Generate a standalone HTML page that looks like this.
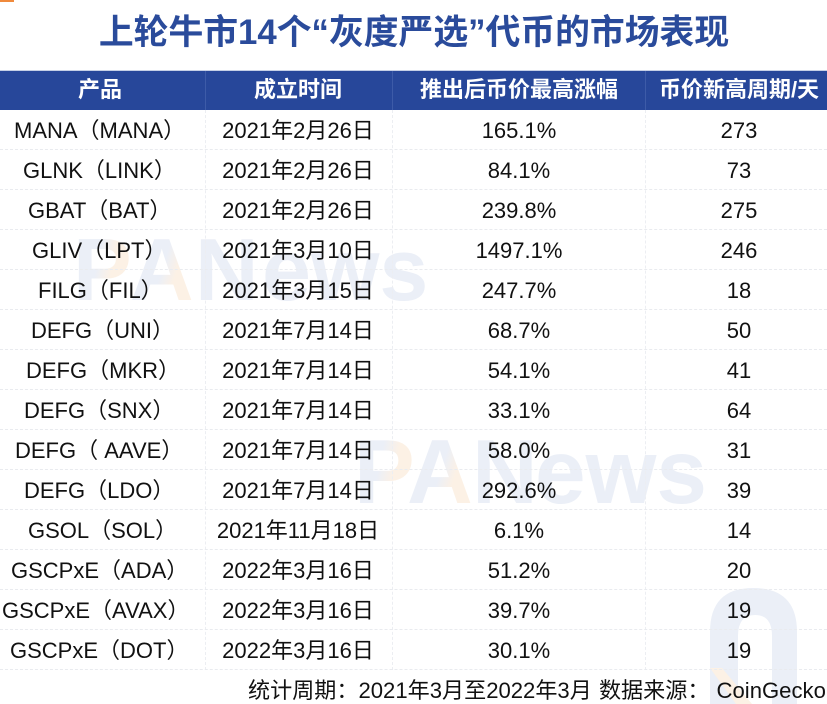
<!DOCTYPE html>
<html lang="zh-CN">
<head>
<meta charset="utf-8">
<title>上轮牛市14个“灰度严选”代币的市场表现</title>
<style>
html,body{margin:0;padding:0;background:#fff;}
#page{position:relative;width:827px;height:704px;overflow:hidden;background:#fff;font-family:"Liberation Sans","Noto Sans CJK SC",sans-serif;color:#111;}
#page>svg{position:absolute;left:0;top:0;}
.t{position:absolute;white-space:nowrap;line-height:40px;height:40px;font-size:22px;}
.c{transform:translateX(-50%);}
.h{position:absolute;top:70px;height:40px;line-height:40px;font-size:22px;font-weight:700;color:#fff;white-space:nowrap;transform:translateX(-50%);}
.title{position:absolute;left:414px;top:10px;transform:translateX(-50%);font-size:34.8px;line-height:46px;font-weight:700;color:#2a4b9b;white-space:nowrap;}
.header-bar{position:absolute;left:0;top:70px;width:827px;height:40px;background:#27479a;border-top:1px solid #c6d0e6;box-sizing:border-box;}
.vd{position:absolute;top:71px;height:39px;width:1px;background:#3d5ba8;}
.hl{position:absolute;left:0;width:827px;height:0;border-top:1px dashed #e9ebef;}
.vl{position:absolute;top:110px;height:560px;width:0;border-left:1px dashed #eceef2;}
.foot{position:absolute;left:248px;top:671px;font-size:22.1px;word-spacing:1px;line-height:40px;height:33px;white-space:nowrap;color:#111;}
.corner{position:absolute;left:0;top:0;width:14px;height:2px;background:#f08a3c;}
</style>
</head>
<body>
<div id="page">
<svg width="827" height="704">
<defs>
<linearGradient id="gp" x1="0" y1="0" x2="1" y2="0.35"><stop offset="0.5" stop-color="#ebeff7"/><stop offset="0.75" stop-color="#fcf1e5"/></linearGradient>
<linearGradient id="ga" x1="0" y1="0" x2="1" y2="0.5"><stop offset="0.6" stop-color="#ebeff7"/><stop offset="0.8" stop-color="#fcf1e5"/></linearGradient>
</defs>
<g font-family="Liberation Sans" font-weight="700" font-size="88">
<text x="73" y="300" fill="url(#gp)">P</text>
<text x="130" y="300" fill="url(#ga)">A</text>
<text x="195" y="300" fill="#ebeff7">N</text>
<text x="262" y="300" fill="#ebeff7">ews</text>
</g>
<g font-family="Liberation Sans" font-weight="700" font-size="91">
<text x="354" y="503" fill="url(#gp)">P</text>
<text x="407" y="503" fill="url(#ga)">A</text>
<text x="472" y="503" fill="#ebeff7">N</text>
<text x="535" y="503" fill="#ebeff7">ews</text>
</g>
<g>
<path d="M710 704 L710 632 Q710 588 753 588 Q797 588 797 632 L797 704 L772 704 L772 636 Q772 615 755 615 Q738 615 738 636 L738 704 Z" fill="#ebeff7"/>
<path d="M710 668 L722 668 L752 704 L736 704 Z" fill="#fcf1e5"/>
</g>
</svg>

<div class="corner"></div>
<div class="title">上轮牛市14个“灰度严选”代币的市场表现</div>

<div class="header-bar"></div>
<div class="vd" style="left:205px"></div>
<div class="vd" style="left:392px"></div>
<div class="vd" style="left:645px"></div>
<div class="h" style="left:100px">产品</div>
<div class="h" style="left:298px">成立时间</div>
<div class="h" style="left:519px">推出后币价最高涨幅</div>
<div class="h" style="left:739px">币价新高周期/天</div>

<div class="vl" style="left:205px"></div>
<div class="vl" style="left:392px"></div>
<div class="vl" style="left:645px"></div>

<div class="hl" style="top:149px"></div>
<div class="hl" style="top:189px"></div>
<div class="hl" style="top:229px"></div>
<div class="hl" style="top:269px"></div>
<div class="hl" style="top:309px"></div>
<div class="hl" style="top:349px"></div>
<div class="hl" style="top:389px"></div>
<div class="hl" style="top:429px"></div>
<div class="hl" style="top:469px"></div>
<div class="hl" style="top:509px"></div>
<div class="hl" style="top:549px"></div>
<div class="hl" style="top:589px"></div>
<div class="hl" style="top:629px"></div>
<div class="hl" style="top:669px"></div>

<div class="t" style="left:14px;top:111px">MANA（MANA）</div>
<div class="t c" style="left:298px;top:111px">2021年2月26日</div>
<div class="t c" style="left:519px;top:111px">165.1%</div>
<div class="t c" style="left:739px;top:111px">273</div>

<div class="t" style="left:23px;top:151px">GLNK（LINK）</div>
<div class="t c" style="left:298px;top:151px">2021年2月26日</div>
<div class="t c" style="left:519px;top:151px">84.1%</div>
<div class="t c" style="left:739px;top:151px">73</div>

<div class="t" style="left:28px;top:191px">GBAT（BAT）</div>
<div class="t c" style="left:298px;top:191px">2021年2月26日</div>
<div class="t c" style="left:519px;top:191px">239.8%</div>
<div class="t c" style="left:739px;top:191px">275</div>

<div class="t" style="left:32px;top:231px">GLIV（LPT）</div>
<div class="t c" style="left:298px;top:231px">2021年3月10日</div>
<div class="t c" style="left:519px;top:231px">1497.1%</div>
<div class="t c" style="left:739px;top:231px">246</div>

<div class="t" style="left:38px;top:271px">FILG（FIL）</div>
<div class="t c" style="left:298px;top:271px">2021年3月15日</div>
<div class="t c" style="left:519px;top:271px">247.7%</div>
<div class="t c" style="left:739px;top:271px">18</div>

<div class="t" style="left:31px;top:311px">DEFG（UNI）</div>
<div class="t c" style="left:298px;top:311px">2021年7月14日</div>
<div class="t c" style="left:519px;top:311px">68.7%</div>
<div class="t c" style="left:739px;top:311px">50</div>

<div class="t" style="left:26px;top:351px">DEFG（MKR）</div>
<div class="t c" style="left:298px;top:351px">2021年7月14日</div>
<div class="t c" style="left:519px;top:351px">54.1%</div>
<div class="t c" style="left:739px;top:351px">41</div>

<div class="t" style="left:24px;top:391px">DEFG（SNX）</div>
<div class="t c" style="left:298px;top:391px">2021年7月14日</div>
<div class="t c" style="left:519px;top:391px">33.1%</div>
<div class="t c" style="left:739px;top:391px">64</div>

<div class="t" style="left:15px;top:431px">DEFG（ AAVE）</div>
<div class="t c" style="left:298px;top:431px">2021年7月14日</div>
<div class="t c" style="left:519px;top:431px">58.0%</div>
<div class="t c" style="left:739px;top:431px">31</div>

<div class="t" style="left:24px;top:471px">DEFG（LDO）</div>
<div class="t c" style="left:298px;top:471px">2021年7月14日</div>
<div class="t c" style="left:519px;top:471px">292.6%</div>
<div class="t c" style="left:739px;top:471px">39</div>

<div class="t" style="left:28px;top:511px">GSOL（SOL）</div>
<div class="t c" style="left:298px;top:511px">2021年11月18日</div>
<div class="t c" style="left:519px;top:511px">6.1%</div>
<div class="t c" style="left:739px;top:511px">14</div>

<div class="t" style="left:11px;top:551px">GSCPxE（ADA）</div>
<div class="t c" style="left:298px;top:551px">2022年3月16日</div>
<div class="t c" style="left:519px;top:551px">51.2%</div>
<div class="t c" style="left:739px;top:551px">20</div>

<div class="t" style="left:2px;top:591px">GSCPxE（AVAX）</div>
<div class="t c" style="left:298px;top:591px">2022年3月16日</div>
<div class="t c" style="left:519px;top:591px">39.7%</div>
<div class="t c" style="left:739px;top:591px">19</div>

<div class="t" style="left:10px;top:631px">GSCPxE（DOT）</div>
<div class="t c" style="left:298px;top:631px">2022年3月16日</div>
<div class="t c" style="left:519px;top:631px">30.1%</div>
<div class="t c" style="left:739px;top:631px">19</div>

<div class="foot">统计周期：2021年3月至2022年3月 数据来源： CoinGecko</div>
</div>
</body>
</html>
